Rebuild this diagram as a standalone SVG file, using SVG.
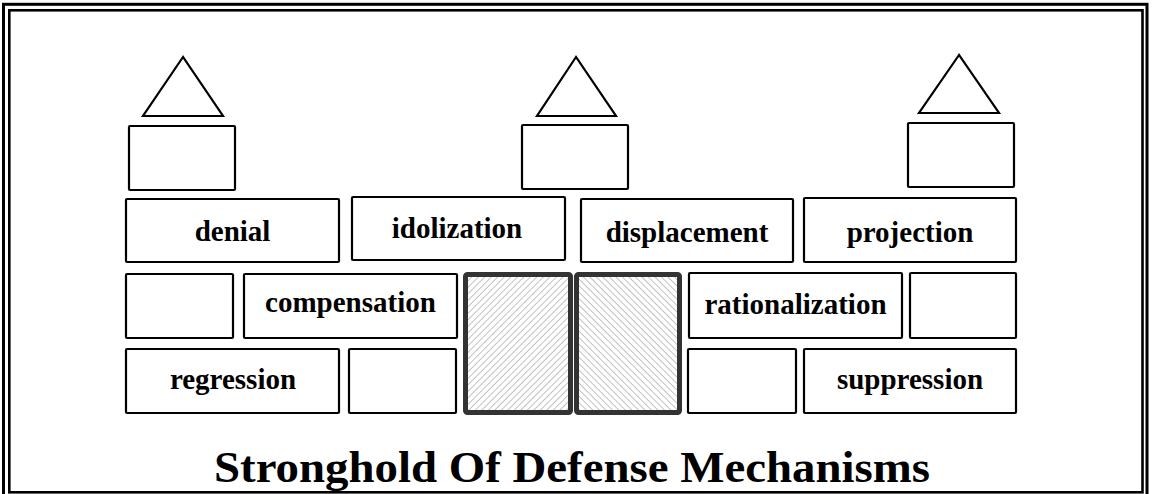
<svg xmlns="http://www.w3.org/2000/svg" width="1152" height="494" viewBox="0 0 1152 494">
<defs>
<pattern id="hatchL" width="4.6" height="4.6" patternUnits="userSpaceOnUse" patternTransform="rotate(45)">
<rect width="4.6" height="4.6" fill="#fff"/>
<line x1="0" y1="0" x2="0" y2="4.6" stroke="#888" stroke-width="1"/>
</pattern>
<pattern id="hatchR" width="4.6" height="4.6" patternUnits="userSpaceOnUse" patternTransform="rotate(-45)">
<rect width="4.6" height="4.6" fill="#fff"/>
<line x1="0" y1="0" x2="0" y2="4.6" stroke="#888" stroke-width="1"/>
</pattern>
<style>
.b{fill:#fff;stroke:#000;stroke-width:2.2}
.t{fill:#fff;stroke:#000;stroke-width:2.2;stroke-linejoin:miter}
.g{stroke:#333;stroke-width:5}
.lbl{font-family:"Liberation Serif","Times New Roman",serif;font-weight:bold;font-size:29px;fill:#000;text-anchor:middle}
.title{font-family:"Liberation Serif","Times New Roman",serif;font-weight:bold;font-size:44px;fill:#000;text-anchor:middle}
</style>
</defs>
<rect width="1152" height="494" fill="#fff"/>
<g id="frame" fill="none" stroke="#000">
<rect x="3.5" y="4.3" width="1143.5" height="500" stroke-width="3"/>
<rect x="9.3" y="10.3" width="1133.2" height="482" stroke-width="2.6"/>
</g>
<g id="tower-left">
<polygon class="t" points="183,57 143,116 223,116"/>
<rect class="b" x="129" y="126" width="106" height="64" rx="1"/>
</g>
<g id="tower-middle">
<polygon class="t" points="576,57 537,116 616,116"/>
<rect class="b" x="522" y="125" width="106" height="64" rx="1"/>
</g>
<g id="tower-right">
<polygon class="t" points="959,55 919,113 999,113"/>
<rect class="b" x="908" y="123" width="106" height="64" rx="1"/>
</g>
<g id="denial"><rect class="b" x="126" y="199" width="213" height="63" rx="1"/><text class="lbl" x="232.5" y="241">denial</text></g>
<g id="idolization"><rect class="b" x="352" y="197" width="213" height="63" rx="1"/><text class="lbl" x="457" y="238">idolization</text></g>
<g id="displacement"><rect class="b" x="581" y="199" width="212" height="63" rx="1"/><text class="lbl" x="687" y="242">displacement</text></g>
<g id="projection"><rect class="b" x="804" y="198" width="212" height="64" rx="1"/><text class="lbl" x="910" y="242">projection</text></g>
<g id="row2-empty-left"><rect class="b" x="126" y="274" width="107" height="64" rx="1"/></g>
<g id="compensation"><rect class="b" x="244" y="274" width="213" height="64" rx="1"/><text class="lbl" x="350.5" y="312">compensation</text></g>
<g id="gate-left"><rect class="g" x="465.5" y="274.5" width="105" height="138" rx="2" fill="url(#hatchL)"/></g>
<g id="gate-right"><rect class="g" x="576.5" y="274.5" width="103" height="138" rx="2" fill="url(#hatchR)"/></g>
<g id="rationalization"><rect class="b" x="689" y="273" width="213" height="65" rx="1"/><text class="lbl" x="795.5" y="314">rationalization</text></g>
<g id="row2-empty-right"><rect class="b" x="910" y="273" width="106" height="65" rx="1"/></g>
<g id="regression"><rect class="b" x="126" y="349" width="213" height="64" rx="1"/><text class="lbl" x="233" y="389">regression</text></g>
<g id="row3-empty-left"><rect class="b" x="349" y="349" width="107" height="64" rx="1"/></g>
<g id="row3-empty-right"><rect class="b" x="688" y="349" width="108" height="64" rx="1"/></g>
<g id="suppression"><rect class="b" x="804" y="349" width="212" height="64" rx="1"/><text class="lbl" x="910" y="389">suppression</text></g>
<g id="connectors"/>
<text class="title" x="572" y="482" textLength="716" lengthAdjust="spacingAndGlyphs">Stronghold Of Defense Mechanisms</text>
</svg>
